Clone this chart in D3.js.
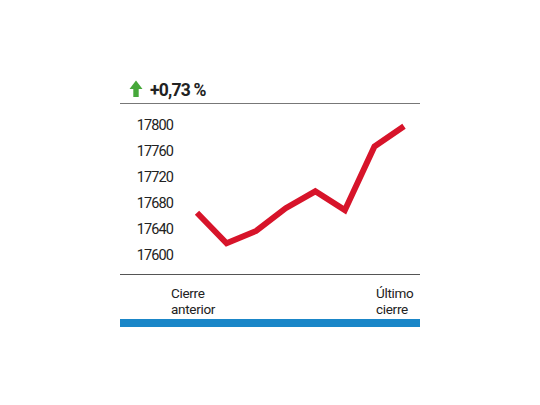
<!DOCTYPE html>
<html><head><meta charset="utf-8">
<script src="https://cdn.jsdelivr.net/npm/d3@7"></script>
<style>html,body{margin:0;padding:0;background:#fff;}</style>
</head><body>
<script>
const labels = ["Cierre anterior","","","","","","","Último cierre"];
const values = [17665, 17618, 17637, 17672, 17698, 17669, 17767, 17798];
const yTicks = [17600, 17640, 17680, 17720, 17760, 17800];
const change = "+0,73 %";

const W = 540, H = 405;
const svg = d3.select("body").append("svg").attr("width", W).attr("height", H);
const font = "Roboto, 'Liberation Sans', sans-serif";

const x = d3.scalePoint().domain(d3.range(values.length)).range([197, 404]);
const y = d3.scaleLinear().domain([17600, 17800]).range([255, 125]);

// header
svg.append("path")
  .attr("d", "M136,80.5 L142.5,89 L138.7,89 L138.7,97 L133.3,97 L133.3,89 L129.5,89 Z")
  .attr("fill", "#46a83a");
svg.append("text").attr("x", 150).attr("y", 95.5).text(change)
  .attr("font-family", font).attr("font-weight", "bold").attr("font-size", 17.5)
  .attr("fill", "#222").attr("letter-spacing", -0.8);
svg.append("line").attr("x1", 120).attr("x2", 420).attr("y1", 103.5).attr("y2", 103.5)
  .attr("stroke", "#777").attr("stroke-width", 1.2);

// y axis labels
const yAxis = d3.axisLeft(y).tickValues(yTicks).tickSize(0).tickPadding(0).tickFormat(d3.format("d"));
const gy = svg.append("g").attr("transform", "translate(173,0)").call(yAxis);
gy.select(".domain").remove();
gy.selectAll("text").attr("font-family", font).attr("font-size", 14.5).attr("fill", "#222")
  .attr("letter-spacing", -0.9);

// bottom line
svg.append("line").attr("x1", 120).attr("x2", 420).attr("y1", 274.5).attr("y2", 274.5)
  .attr("stroke", "#555").attr("stroke-width", 1.2);

// data line
svg.append("path").datum(values)
  .attr("d", d3.line().x((d, i) => x(i)).y(d => y(d)))
  .attr("fill", "none").attr("stroke", "#d7142a").attr("stroke-width", 6)
  .attr("stroke-linejoin", "miter").attr("stroke-linecap", "butt");

// x labels
const xl = [{i: 0, dx: -26}, {i: values.length - 1, dx: -28}];
xl.forEach(o => {
  const words = labels[o.i].split(" ");
  words.forEach((w, k) => svg.append("text")
    .attr("x", x(o.i) + o.dx).attr("y", 297.5 + k * 16)
    .attr("font-family", font).attr("font-size", 13.5).attr("fill", "#222")
    .attr("letter-spacing", -0.3).text(w));
});

// blue bar
svg.append("rect").attr("x", 120).attr("y", 319).attr("width", 300).attr("height", 8).attr("fill", "#1a86c8");
</script>
</body></html>
